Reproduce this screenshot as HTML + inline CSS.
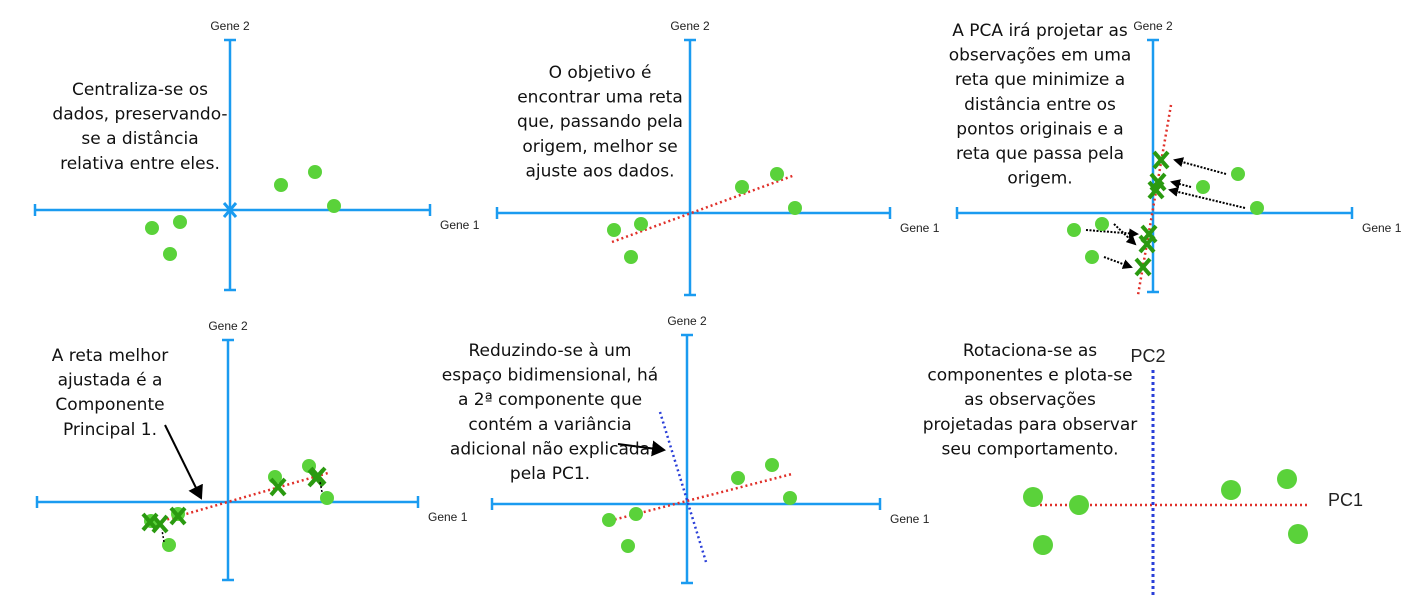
<!DOCTYPE html>
<html><head><meta charset="utf-8"><style>
body{margin:0;background:#fff;}
svg{display:block;}
.t{font-family:"DejaVu Sans","Liberation Sans",sans-serif;font-size:17px;fill:#111;text-anchor:middle;}
.g{font-family:"Liberation Sans",sans-serif;font-size:12px;fill:#222;}
.pc{font-family:"Liberation Sans",sans-serif;font-size:18px;fill:#222;}
</style></head><body>
<svg id="s" width="1414" height="607" viewBox="0 0 1414 607" xmlns="http://www.w3.org/2000/svg">
<defs>
<marker id="ah" markerWidth="8" markerHeight="8" refX="6" refY="4" orient="auto"><path d="M0,0 L7,4 L0,8 z" fill="#000"/></marker>
<marker id="ahs" markerWidth="5" markerHeight="5" refX="4" refY="2.5" orient="auto"><path d="M0,0 L5,2.5 L0,5 z" fill="#000"/></marker>
</defs>
</svg>
<script>
const NS="http://www.w3.org/2000/svg";
const svg=document.getElementById('s');
const panelAxes=[[230,210,35,430,40,290],[690,213,497,890,40,295],[1153,213,957,1352,40,292],[228,502,37,418,340,580],[687,504,492,880,335,583]];
const panelPoints=[
 [[281,185],[315,172],[334,206],[152,228],[180,222],[170,254]],
 [[742,187],[777,174],[795,208],[614,230],[641,224],[631,257]],
 [[1238,174],[1203,187],[1257,208],[1074,230],[1102,224],[1092,257]],
 [[275,477],[309,466],[327,498],[151,521],[178,514],[169,545]],
 [[738,478],[772,465],[790,498],[609,520],[636,514],[628,546]],
 [[1033,497],[1079,505],[1231,490],[1287,479],[1298,534],[1043,545]]
];
const proj3=[[1161,160],[1158,182],[1156,190],[1149,234],[1147,244],[1143,267]];
const proj4=[[150,522],[178,516],[278,487],[316,478],[318,476],[160,524]];
const texts=[
 [140,95,["Centraliza-se os","dados, preservando-","se a distância","relativa entre eles."]],
 [600,78,["O objetivo é","encontrar uma reta","que, passando pela","origem, melhor se","ajuste aos dados."]],
 [1040,36,["A PCA irá projetar as","observações em uma","reta que minimize a","distância entre os","pontos originais e a","reta que passa pela","origem."]],
 [110,361,["A reta melhor","ajustada é a","Componente","Principal 1."]],
 [550,356,["Reduzindo-se à um","espaço bidimensional, há","a 2ª componente que","contém a variância","adicional não explicada","pela PC1."]],
 [1030,356,["Rotaciona-se as","componentes  e plota-se","as observações","projetadas para observar","seu comportamento."]]
];
function el(tag,attrs,parent){const e=document.createElementNS(NS,tag);for(const k in attrs)e.setAttribute(k,attrs[k]);(parent||svg).appendChild(e);return e;}
panelAxes.forEach((a,i)=>{
 const g=el('g',{});
 
 
 const [cx,cy,x0,x1,y0,y1]=a, c='#1a9bf0';
 el('line',{x1:x0,y1:cy,x2:x1,y2:cy,stroke:c,'stroke-width':2.5},g);
 el('line',{x1:cx,y1:y0,x2:cx,y2:y1,stroke:c,'stroke-width':2.5},g);
 el('line',{x1:x0,y1:cy-6,x2:x0,y2:cy+6,stroke:c,'stroke-width':2.5},g);
 el('line',{x1:x1,y1:cy-6,x2:x1,y2:cy+6,stroke:c,'stroke-width':2.5},g);
 el('line',{x1:cx-6,y1:y0,x2:cx+6,y2:y0,stroke:c,'stroke-width':2.5},g);
 el('line',{x1:cx-6,y1:y1,x2:cx+6,y2:y1,stroke:c,'stroke-width':2.5},g);
 const t2=el('text',{x:cx,y:y0-10,class:'g','text-anchor':'middle'},g);t2.textContent='Gene 2';
 const t1=el('text',{x:x1+10,y:cy+19,class:'g'},g);t1.textContent='Gene 1';
});
el('path',{d:'M224,203 L236,217 M236,203 L224,217',stroke:'#1a9bf0','stroke-width':3});
const red=(x1,y1,x2,y2)=>el('line',{x1,y1,x2,y2,stroke:'#e0302a','stroke-width':2.5,'stroke-dasharray':'2 3'});
red(612,242,795,175);red(1171,105,1138,295);red(148,525,328,473);red(605,522,792,474);red(1040,505,1310,505);
el('line',{x1:660,y1:412,x2:706,y2:562,stroke:'#2a3fd8','stroke-width':2.5,'stroke-dasharray':'2 3'});
el('line',{x1:1153,y1:370,x2:1153,y2:595,stroke:'#2a3fd8','stroke-width':3,'stroke-dasharray':'3 3'});
const pc2=el('text',{x:1148,y:362,class:'pc','text-anchor':'middle'});pc2.textContent='PC2';
const pc1=el('text',{x:1328,y:506,class:'pc'});pc1.textContent='PC1';
panelPoints[2].forEach((p,i)=>{const q=proj3[i];
 const a=el('line',{x1:p[0]+(p[0]>q[0]?-12:12),y1:p[1],x2:q[0]+(p[0]>q[0]?14:-12),y2:q[1],stroke:'#000','stroke-width':2,'stroke-dasharray':'2 1.5','marker-end':'url(#ahs)'});
 });
panelPoints.forEach((pts,i)=>pts.forEach(p=>{
 const c=el('circle',{cx:p[0],cy:p[1],r:i==5?10:7,fill:'#5ad23a'});
 }));
function xm(p){const m=el('path',{d:`M${p[0]-7},${p[1]-8} L${p[0]+7},${p[1]+8} M${p[0]+7},${p[1]-8} L${p[0]-7},${p[1]+8}`,stroke:'#2a9a10','stroke-width':4});
 }
proj3.forEach(xm);proj4.forEach(xm);
el('line',{x1:164,y1:542,x2:162,y2:530,stroke:'#000','stroke-width':1.5,'stroke-dasharray':'2 2'});
el('line',{x1:322,y1:492,x2:320,y2:482,stroke:'#000','stroke-width':1.5,'stroke-dasharray':'2 2'});
el('line',{x1:165,y1:425,x2:201,y2:498,stroke:'#000','stroke-width':2,'marker-end':'url(#ah)'});
el('line',{x1:618,y1:444,x2:664,y2:450,stroke:'#000','stroke-width':2,'marker-end':'url(#ah)'});
texts.forEach((t,i)=>{const tx=el('text',{class:'t'});
 
 t[2].forEach((l,j)=>{const s=el('tspan',{x:t[0],y:t[1]+j*24.6},tx);s.textContent=l;});});
</script>
</body></html>
